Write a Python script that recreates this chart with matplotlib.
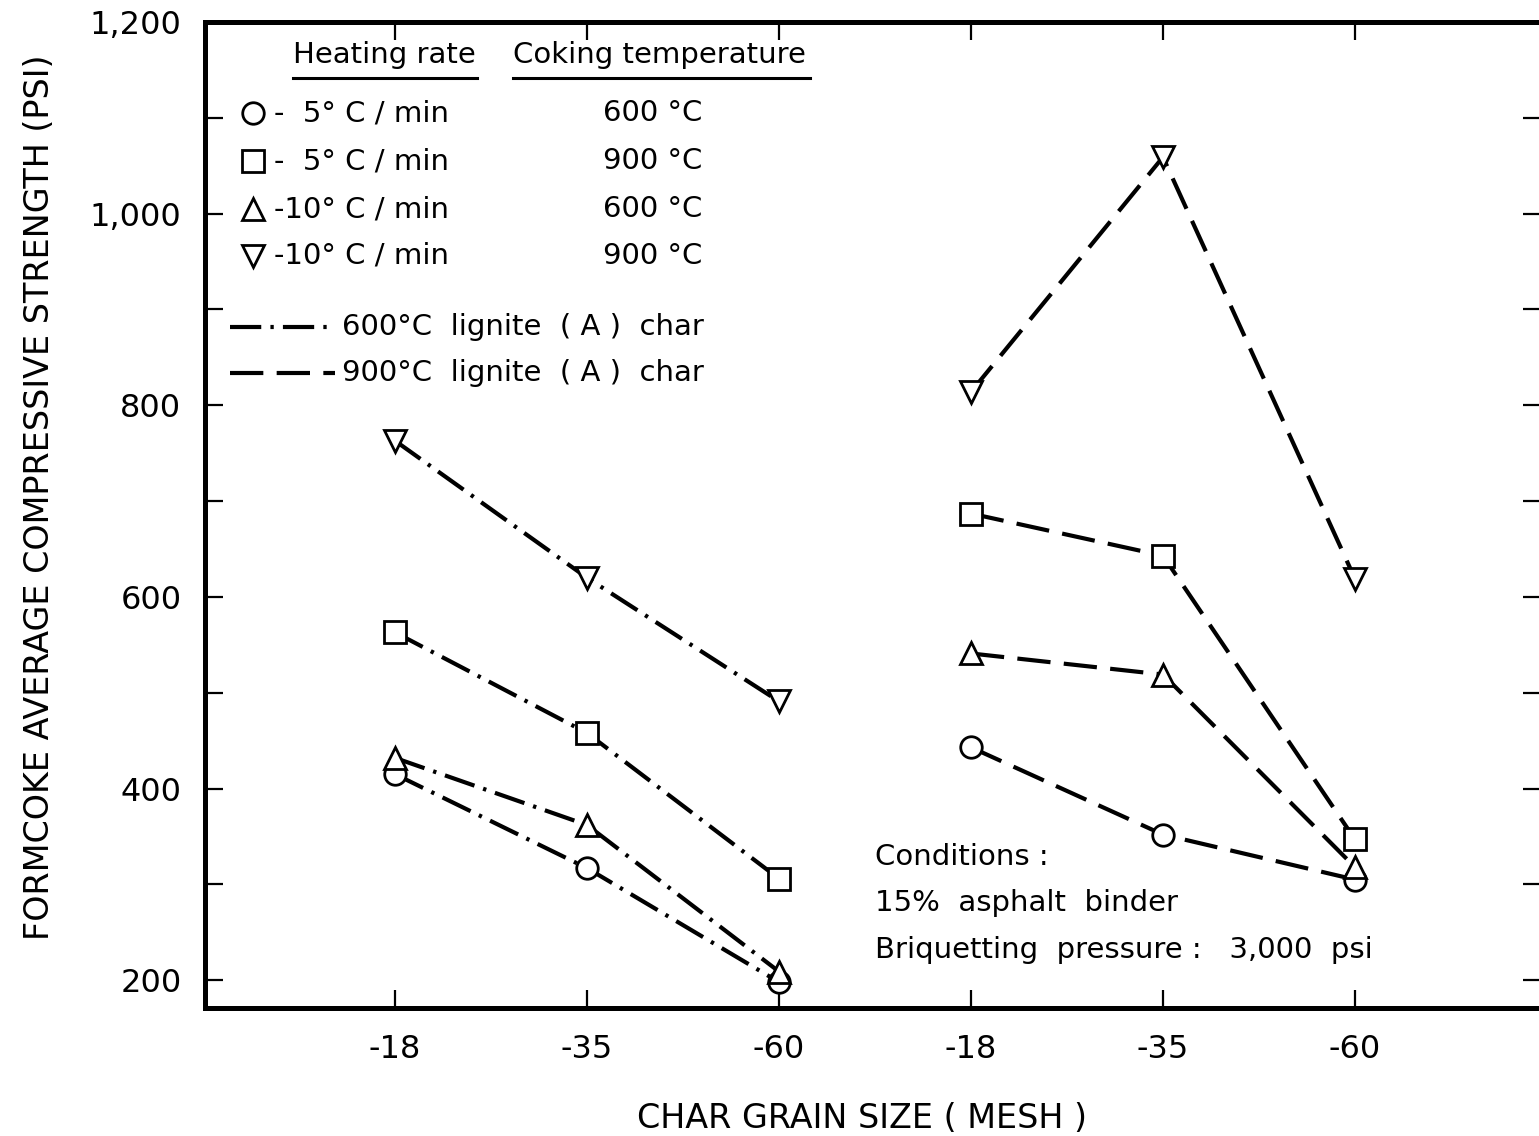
import matplotlib
matplotlib.use("Agg")
import matplotlib.pyplot as plt
from matplotlib.ticker import FixedLocator

# ---------------- data ----------------
mesh_labels = ["-18", "-35", "-60"]
char_groups = ["600°C  lignite  ( A )  char", "900°C  lignite  ( A )  char"]

# 600 °C lignite (A) char  (dash-dot lines)
char600_rate5_coke600 = [415, 317, 198]     # circle
char600_rate5_coke900 = [563, 458, 306]     # square
char600_rate10_coke600 = [432, 362, 209]    # triangle up
char600_rate10_coke900 = [763, 620, 491]    # triangle down

# 900 °C lignite (A) char  (dashed lines)
char900_rate5_coke600 = [443, 352, 305]
char900_rate5_coke900 = [687, 643, 347]
char900_rate10_coke600 = [541, 519, 318]
char900_rate10_coke900 = [814, 1059, 619]

heating_rates = ["-  5° C / min", "-  5° C / min", "-10° C / min", "-10° C / min"]
coking_temps = ["600 °C", "900 °C", "600 °C", "900 °C"]
series_markers = ["o", "s", "^", "v"]

ytick_values = [200, 400, 600, 800, 1000, 1200]
ytick_labels = ["200", "400", "600", "800", "1,000", "1,200"]
ytick_minor = [300, 500, 700, 900, 1100]

conditions = ["Conditions :", "15%  asphalt  binder", "Briquetting  pressure :   3,000  psi"]

# ---------------- figure ----------------
W, H = 1539, 1136
fig = plt.figure(figsize=(W / 100, H / 100), dpi=100)
fig.patch.set_facecolor("white")
AX_L, AX_R, AX_T, AX_B = 205, 1541, 22, 1008
ax = fig.add_axes([AX_L / W, 1 - AX_B / H, (AX_R - AX_L) / W, (AX_B - AX_T) / H])


def axc(px, py):
    return ((px - AX_L) / (AX_R - AX_L), (AX_B - py) / (AX_B - AX_T))


FS = 21
FS_TICK = 23
plt.rcParams["font.family"] = ["DejaVu Sans"]

dashdot = (7.5, 2.2, 0.8, 2.2)
dashed = (8.0, 3.2)

groups = [
    ([char600_rate5_coke600, char600_rate5_coke900,
      char600_rate10_coke600, char600_rate10_coke900], dashdot),
    ([char900_rate5_coke600, char900_rate5_coke900,
      char900_rate10_coke600, char900_rate10_coke900], dashed),
]

xticks = []
xlabels = []
for gi, (series, dash) in enumerate(groups):
    xs = [gi * len(mesh_labels) + i + 1 for i in range(len(mesh_labels))]
    xticks += xs
    xlabels += mesh_labels
    for vals, mk in zip(series, series_markers):
        ax.plot(xs, vals, color="black", lw=3.0, dashes=dash, zorder=2,
                solid_capstyle="butt", dash_capstyle="butt")
        ax.plot(xs, vals, linestyle="none", marker=mk, ms=15.5, mfc="white",
                mec="black", mew=2.0, zorder=3)

ax.set_xlim(0.0104, 6.969)
ax.set_ylim(171, 1200)

ax.set_xticks(xticks)
ax.set_xticklabels(xlabels, fontsize=FS_TICK)
ax.set_yticks(ytick_values)
ax.set_yticklabels(ytick_labels, fontsize=FS_TICK)
ax.yaxis.set_minor_locator(FixedLocator(ytick_minor))

ax.tick_params(axis="both", which="both", direction="in", length=13, width=1.6,
               top=True, right=True, color="black")
ax.tick_params(axis="y", which="major", pad=17)
ax.tick_params(axis="x", which="major", pad=19)

for side in ["left", "top", "bottom"]:
    ax.spines[side].set_linewidth(3.6)
ax.spines["right"].set_visible(False)

ax.set_ylabel("FORMCOKE AVERAGE COMPRESSIVE STRENGTH (PSI)", fontsize=24,
              va="center", ha="center")
ax.yaxis.set_label_coords(-0.124, 0.518)
ax.set_xlabel("CHAR GRAIN SIZE ( MESH )", fontsize=24, va="center", ha="center")
ax.xaxis.set_label_coords(0.492, -0.1116)

# ---------------- legend (drawn as text in axes coords) ----------------
tr = ax.transAxes
hx, hy = axc(293, 55)
ax.text(hx, hy, "Heating rate", fontsize=FS, ha="left", va="center", transform=tr)
cx, _ = axc(513, 55)
ax.text(cx, hy, "Coking temperature", fontsize=FS, ha="left", va="center", transform=tr)
for (x0, x1) in [(293, 477), (513, 810)]:
    p0 = axc(x0, 78)
    p1 = axc(x1, 78)
    ax.plot([p0[0], p1[0]], [p0[1], p1[1]], color="black", lw=2.2,
            transform=tr, clip_on=False)

row_y = [113, 161, 209, 256]
for mk, rate, temp, py in zip(series_markers, heating_rates, coking_temps, row_y):
    mx, my = axc(253, py)
    ax.plot([mx], [my], marker=mk, ms=15.5, mfc="white", mec="black", mew=2.0,
            linestyle="none", transform=tr, clip_on=False)
    tx, ty = axc(274, py)
    ax.text(tx, ty, rate, fontsize=FS, ha="left", va="center", transform=tr)
    px_, _ = axc(603, py)
    ax.text(px_, ty, temp, fontsize=FS, ha="left", va="center", transform=tr)

for label, dash, py in zip(char_groups, [dashdot, dashed], [327, 373]):
    a = axc(230, py)
    b = axc(335, py)
    ax.plot([a[0], b[0]], [a[1], b[1]], color="black", lw=3.0, dashes=dash,
            transform=tr, clip_on=False)
    tx, ty = axc(342, py)
    ax.text(tx, ty, label, fontsize=FS, ha="left", va="center", transform=tr)

for line, py in zip(conditions, [857, 903, 950]):
    tx, ty = axc(875, py)
    ax.text(tx, ty, line, fontsize=FS, ha="left", va="center", transform=tr)

fig.savefig("out.png", dpi=100, facecolor="white")
